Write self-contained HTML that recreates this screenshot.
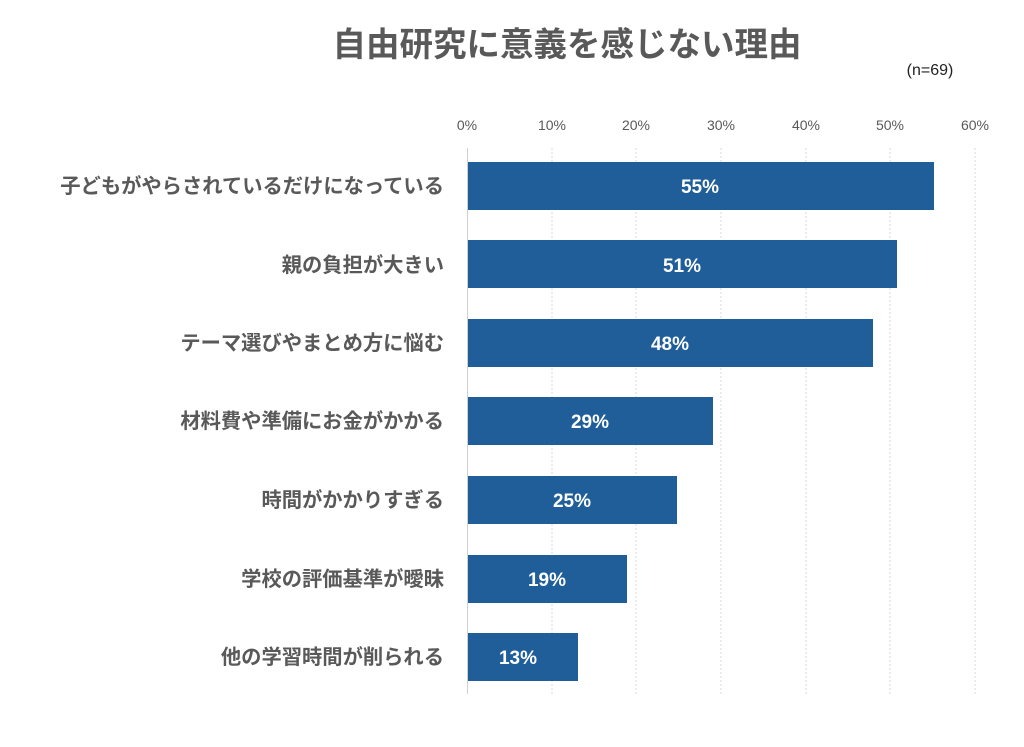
<!DOCTYPE html>
<html><head><meta charset="utf-8"><style>
body{margin:0;background:#fff;width:1024px;height:742px;overflow:hidden}
svg text{font-family:"Liberation Sans","Noto Sans CJK JP",sans-serif}
</style></head><body>
<svg width="1024" height="742" xmlns="http://www.w3.org/2000/svg">
<text x="567" y="56" text-anchor="middle" font-size="33.5" font-weight="bold" fill="#595959">自由研究に意義を感じない理由</text>
<text x="930" y="75" text-anchor="middle" font-size="16" fill="#222">(n=69)</text>
<g font-size="14" fill="#595959" text-anchor="middle">
<text x="467" y="130">0%</text><text x="552" y="130">10%</text><text x="636" y="130">20%</text><text x="721" y="130">30%</text><text x="806" y="130">40%</text><text x="890" y="130">50%</text><text x="975" y="130">60%</text>
</g>
<g stroke="#d9d9d9" stroke-dasharray="2,2" stroke-width="1">
<line x1="552" y1="148" x2="552" y2="694"/><line x1="636" y1="148" x2="636" y2="694"/><line x1="721" y1="148" x2="721" y2="694"/><line x1="806" y1="148" x2="806" y2="694"/><line x1="890" y1="148" x2="890" y2="694"/><line x1="975" y1="148" x2="975" y2="694"/>
</g>
<line x1="467.5" y1="148" x2="467.5" y2="694" stroke="#d0d0d0"/>
<g fill="#1f5e99">
<rect x="468" y="162" width="466" height="48"/>
<rect x="468" y="240" width="429" height="48"/>
<rect x="468" y="319" width="405" height="48"/>
<rect x="468" y="397" width="245" height="48"/>
<rect x="468" y="476" width="209" height="48"/>
<rect x="468" y="555" width="159" height="48"/>
<rect x="468" y="633" width="110" height="48"/>
</g>
<g font-size="19" font-weight="bold" fill="#fff" text-anchor="middle">
<text x="700" y="193">55%</text><text x="682" y="272">51%</text><text x="670" y="350">48%</text><text x="590" y="428">29%</text><text x="572" y="507">25%</text><text x="547" y="586">19%</text><text x="518" y="664">13%</text>
</g>
<g font-size="20.3" font-weight="bold" fill="#595959" text-anchor="end">
<text x="444" y="193">子どもがやらされているだけになっている</text>
<text x="444" y="272">親の負担が大きい</text>
<text x="444" y="350">テーマ選びやまとめ方に悩む</text>
<text x="444" y="428">材料費や準備にお金がかかる</text>
<text x="444" y="507">時間がかかりすぎる</text>
<text x="444" y="586">学校の評価基準が曖昧</text>
<text x="444" y="664">他の学習時間が削られる</text>
</g>
</svg>
</body></html>
